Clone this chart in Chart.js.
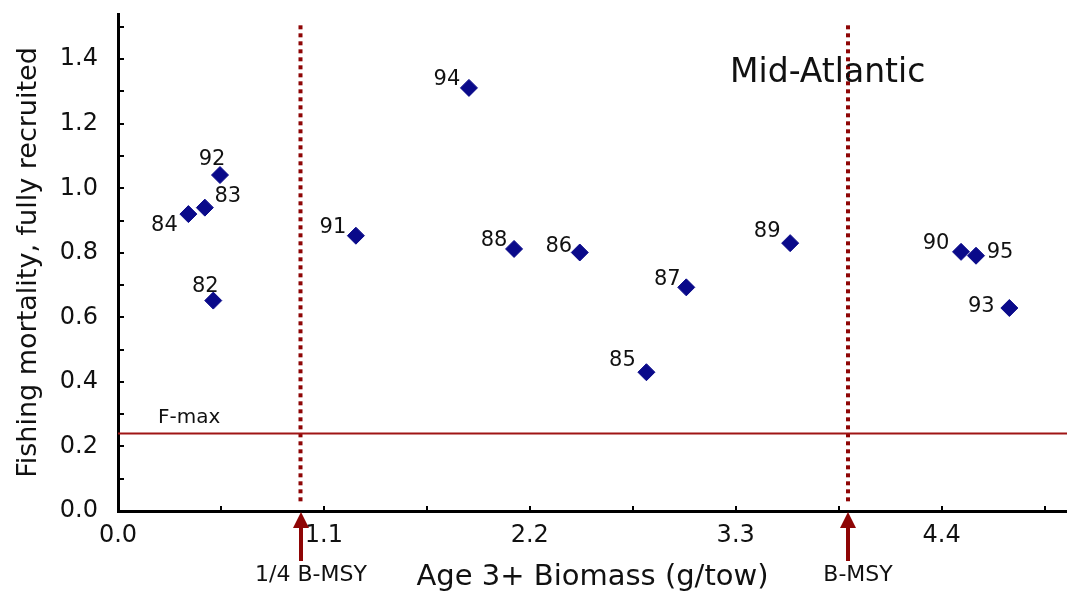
<!DOCTYPE html>
<html>
<head>
<meta charset="utf-8">
<script src="https://cdn.jsdelivr.net/npm/chart.js@4/dist/chart.umd.min.js"></script>
<style>
  body { margin: 0; background: #fff; }
  canvas { display: block; }
</style>
</head>
<body>
<canvas id="chart" width="1067" height="599"></canvas>
<script>
// year labels (19xx) with biomass (g/tow) and fishing mortality
const years = ['92', '83', '84', '82', '91', '94', '88', '86', '87', '85', '89', '90', '95', '93'];
const biomass = [0.545, 0.464, 0.376, 0.509, 1.271, 1.875, 2.116, 2.467, 3.036, 2.823, 3.591, 4.504, 4.584, 4.762];
const mortality = [1.041, 0.940, 0.920, 0.652, 0.853, 1.311, 0.812, 0.801, 0.693, 0.430, 0.830, 0.803, 0.791, 0.629];

// where each year label sits relative to its point (px)
const labelDx = [-8, 23, -24, -8, -23, -22, -20, -21, -19, -24, -23, -25, 24, -28];
const labelDy = [-15, -11, 11, -14, -8, -8, -8, -6, -8, -12, -12, -8, -3, -1];

// reference points
const bMsy = 3.9;
const quarterBMsy = 0.975;
const fMax = 0.24;

const xTickLabels = ['0.0', '1.1', '2.2', '3.3', '4.4'];
const yTickLabels = ['0.0', '0.2', '0.4', '0.6', '0.8', '1.0', '1.2', '1.4'];

const RED = '#8e0505';
const NAVY = '#0a0a8a';
const FONT = "'DejaVu Sans', sans-serif";

Chart.defaults.font.family = FONT;
Chart.defaults.color = '#111';

const points = biomass.map((b, i) => ({ x: b, y: mortality[i] }));

// inward tick marks, year labels, arrows and notes
const decorPlugin = {
  id: 'decor',
  afterDraw(chart) {
    const { ctx, chartArea } = chart;
    const xs = chart.scales.x;
    const ys = chart.scales.y;
    ctx.save();

    ctx.strokeStyle = '#000';
    ctx.lineWidth = 2;
    ys.ticks.forEach((t) => {
      const py = Math.round(ys.getPixelForValue(t.value));
      ctx.beginPath();
      ctx.moveTo(chartArea.left, py);
      ctx.lineTo(chartArea.left + 6, py);
      ctx.stroke();
    });
    xs.ticks.forEach((t) => {
      const px = Math.round(xs.getPixelForValue(t.value));
      ctx.beginPath();
      ctx.moveTo(px, chartArea.bottom);
      ctx.lineTo(px, chartArea.bottom - 5);
      ctx.stroke();
    });

    // year labels
    const meta = chart.getDatasetMeta(0);
    ctx.fillStyle = '#111';
    ctx.font = '21px ' + FONT;
    ctx.textAlign = 'center';
    ctx.textBaseline = 'middle';
    meta.data.forEach((el, i) => {
      ctx.fillText(years[i], el.x + labelDx[i], el.y + labelDy[i]);
    });

    // F-max note
    ctx.font = '20px ' + FONT;
    ctx.textAlign = 'left';
    ctx.textBaseline = 'bottom';
    ctx.fillText('F-max', xs.getPixelForValue(0.214), ys.getPixelForValue(fMax) - 6);

    // region title
    ctx.font = '33px ' + FONT;
    ctx.textBaseline = 'middle';
    ctx.fillText('Mid-Atlantic', xs.getPixelForValue(3.27), ys.getPixelForValue(1.357));

    // arrows under the axis
    [[quarterBMsy, '1/4 B-MSY'], [bMsy, 'B-MSY']].forEach(([v, txt]) => {
      const px = Math.round(xs.getPixelForValue(v));
      const base = chartArea.bottom;
      ctx.fillStyle = RED;
      ctx.beginPath();
      ctx.moveTo(px, base + 1);
      ctx.lineTo(px - 8, base + 17);
      ctx.lineTo(px + 8, base + 17);
      ctx.closePath();
      ctx.fill();
      ctx.fillRect(px - 2, base + 16, 4, 34);
      ctx.fillStyle = '#111';
      ctx.font = '22px ' + FONT;
      ctx.textAlign = 'center';
      ctx.fillText(txt, px + 10, 575);
    });

    ctx.restore();
  },
};

new Chart(document.getElementById('chart'), {
  type: 'scatter',
  data: {
    datasets: [
      {
        label: 'Years',
        data: points,
        pointStyle: 'rectRot',
        pointRadius: 8.5,
        backgroundColor: NAVY,
        borderColor: NAVY,
        borderWidth: 1,
      },
      {
        label: 'F-max',
        type: 'line',
        data: [{ x: 0, y: fMax }, { x: 5.07, y: fMax }],
        borderColor: '#a01515',
        borderWidth: 2,
        pointRadius: 0,
      },
      {
        label: '1/4 B-MSY',
        type: 'line',
        data: [{ x: quarterBMsy, y: 0.03 }, { x: quarterBMsy, y: 1.51 }],
        borderColor: RED,
        borderWidth: 4,
        borderDash: [4, 4],
        pointRadius: 0,
      },
      {
        label: 'B-MSY',
        type: 'line',
        data: [{ x: bMsy, y: 0.03 }, { x: bMsy, y: 1.51 }],
        borderColor: RED,
        borderWidth: 4,
        borderDash: [4, 4],
        pointRadius: 0,
      },
    ],
  },
  options: {
    responsive: false,
    animation: false,
    layout: { autoPadding: false, padding: { top: 14, left: 0, right: 0, bottom: 0 } },
    plugins: {
      legend: { display: false },
      tooltip: { enabled: false },
    },
    scales: {
      x: {
        type: 'linear',
        min: 0,
        max: 5.07,
        grid: { display: false, drawTicks: false },
        border: { display: true, color: '#000', width: 3 },
        ticks: {
          stepSize: 0.55,
          includeBounds: false,
          autoSkip: false,
          maxRotation: 0,
          padding: 10,
          color: '#111',
          font: { size: 24 },
          callback: (v, i) => (i % 2 === 0 ? xTickLabels[i / 2] : ''),
        },
        title: {
          display: true,
          text: 'Age 3+ Biomass (g/tow)',
          color: '#111',
          font: { size: 29 },
          padding: { top: 0, bottom: 4 },
        },
        afterFit: (scale) => {
          scale.height = 88;
          scale.paddingLeft = 0;
          scale.paddingRight = 0;
        },
      },
      y: {
        min: 0,
        max: 1.54,
        grid: { display: false, drawTicks: false },
        border: { display: true, color: '#000', width: 3 },
        ticks: {
          stepSize: 0.1,
          includeBounds: false,
          autoSkip: false,
          padding: 20,
          color: '#111',
          font: { size: 24 },
          callback: (v, i) => (i % 2 === 0 ? yTickLabels[i / 2] : ''),
        },
        title: {
          display: true,
          text: 'Fishing mortality, fully recruited',
          color: '#111',
          font: { size: 27 },
          padding: { top: 13, bottom: 0 },
        },
        afterFit: (scale) => {
          scale.width = 118;
          scale.paddingTop = 0;
          scale.paddingBottom = 0;
        },
      },
    },
  },
  plugins: [decorPlugin],
});
</script>
</body>
</html>
